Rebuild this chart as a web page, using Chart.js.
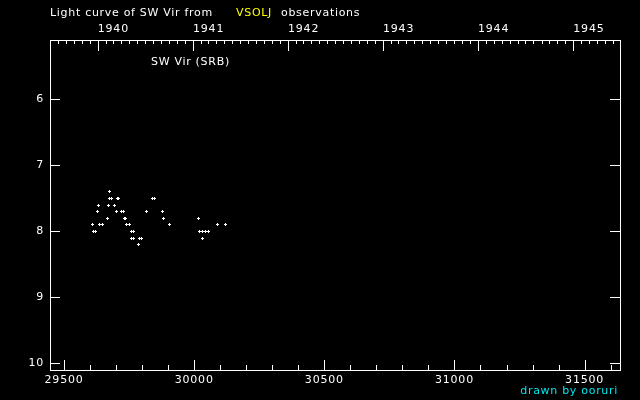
<!DOCTYPE html>
<html>
<head>
<meta charset="utf-8">
<script src="https://cdn.jsdelivr.net/npm/chart.js@4"></script>
<style>
  html, body { margin: 0; padding: 0; background: #000; }
  canvas { display: block; }
</style>
</head>
<body>
<canvas id="lc" width="640" height="400"></canvas>
<script>
// JD - 2400000 and visual magnitude (VSOLJ, SW Vir)
const jd = [29609, 29613, 29620, 29628, 29632, 29636, 29647, 29666, 29670, 29674,
            29674, 29683, 29693, 29702, 29705, 29711, 29720, 29728, 29731, 29735,
            29741, 29751, 29760, 29761, 29765, 29766, 29785, 29789, 29797, 29816,
            29839, 29847, 29877, 29881, 29904, 30016, 30020, 30031, 30031, 30042,
            30054, 30089, 30119];
const mag = [7.9, 8.0, 8.0, 7.7, 7.6, 7.9, 7.9, 7.8, 7.6, 7.4,
             7.5, 7.5, 7.6, 7.7, 7.5, 7.5, 7.7, 7.7, 7.8, 7.8,
             7.9, 7.9, 8.0, 8.1, 8.1, 8.0, 8.2, 8.1, 8.1, 7.7,
             7.5, 7.5, 7.7, 7.8, 7.9, 7.8, 8.0, 8.0, 8.1, 8.0,
             8.0, 7.9, 7.9];

const jdTicks = [29500, 30000, 30500, 31000, 31500];
const years = [1940, 1941, 1942, 1943, 1944, 1945];
const magTicks = [6, 7, 8, 9, 10];

const jdMin = 29446, jdMax = 31636;
const FONT = '11px "DejaVu Sans"';

// calendar date -> JD - 2400000
function jdOf(y, m) {
    return Date.UTC(y, m, 1) / 86400000 + 40587.5;
}

// small pixel plus used as the point marker
const plus = document.createElement("canvas");
plus.width = 3;
plus.height = 3;
const pctx = plus.getContext("2d");
pctx.fillStyle = "#fff";
pctx.fillRect(1, 0, 1, 3);
pctx.fillRect(0, 1, 3, 1);

const frame = {
    id: "frame",
    beforeDraw(chart) {
        const ctx = chart.ctx;
        ctx.fillStyle = "#000";
        ctx.fillRect(0, 0, chart.width, chart.height);
        ctx.letterSpacing = "0.8px";
    },
    beforeDatasetsDraw(chart) {
        chart.ctx.imageSmoothingEnabled = false;
    },
    afterDraw(chart) {
        const { ctx, chartArea: a, scales } = chart;
        ctx.save();
        ctx.strokeStyle = "#fff";
        ctx.lineWidth = 1;
        ctx.strokeRect(a.left + 0.5, a.top + 0.5, a.right - a.left, a.bottom - a.top);

        ctx.beginPath();
        // bottom: major every 500, minor every 100
        scales.x.ticks.forEach(t => {
            const px = Math.round(scales.x.getPixelForValue(t.value)) + 0.5;
            const len = t.value % 500 === 0 ? 10 : 5;
            ctx.moveTo(px, a.bottom);
            ctx.lineTo(px, a.bottom - len);
        });
        // top: years and months
        for (let y = years[0] - 1; y <= years[years.length - 1] + 1; y++) {
            for (let m = 0; m < 12; m++) {
                const v = jdOf(y, m);
                if (v <= jdMin || v >= jdMax) continue;
                const px = Math.round(scales.x2.getPixelForValue(v)) + 0.5;
                ctx.moveTo(px, a.top);
                ctx.lineTo(px, a.top + (m === 0 ? 11 : 4));
            }
        }
        // magnitude ticks on both sides
        magTicks.forEach(v => {
            const py = Math.round(scales.y.getPixelForValue(v)) + 0.5;
            ctx.moveTo(a.left, py);
            ctx.lineTo(a.left + 10, py);
            ctx.moveTo(a.right, py);
            ctx.lineTo(a.right - 10, py);
        });
        ctx.stroke();

        ctx.font = FONT;
        ctx.letterSpacing = "0.7px";
        ctx.textBaseline = "alphabetic";
        ctx.textAlign = "left";
        ctx.fillStyle = "#fff";
        ctx.fillText("Light curve of SW Vir from", 50, 16);
        ctx.fillStyle = "#ffff00";
        ctx.fillText("VSOLJ", 236, 16);
        ctx.fillStyle = "#fff";
        ctx.fillText("observations", 281, 16);
        ctx.fillText("SW Vir (SRB)", 151, 65);
        ctx.fillStyle = "#00e8f0";
        ctx.textAlign = "right";
        ctx.fillText("drawn by ooruri", 618, 394);
        ctx.restore();
    }
};

Chart.defaults.font.family = '"DejaVu Sans"';
Chart.defaults.font.size = 11;
Chart.defaults.color = "#fff";

new Chart(document.getElementById("lc").getContext("2d"), {
    type: "scatter",
    data: {
        datasets: [{
            data: jd.map((d, i) => ({ x: d, y: mag[i] })),
            pointStyle: plus,
            pointRadius: 1.5,
            borderColor: "#fff",
            backgroundColor: "#fff",
            xAxisID: "x",
            yAxisID: "y"
        }]
    },
    options: {
        responsive: false,
        animation: false,
        events: [],
        layout: { padding: { left: 0, top: 0, right: 20, bottom: 0 } },
        plugins: {
            legend: { display: false },
            tooltip: { enabled: false }
        },
        scales: {
            x: {
                type: "linear",
                position: "bottom",
                min: jdMin,
                max: jdMax,
                afterBuildTicks: s => {
                    const t = [];
                    for (let v = 29500; v <= 31600; v += 100) t.push({ value: v });
                    s.ticks = t;
                },
                afterFit: s => { s.height = 30; },
                ticks: {
                    autoSkip: false,
                    maxRotation: 0,
                    padding: 4,
                    color: "#fff",
                    callback: v => jdTicks.includes(v) ? String(v) : ""
                },
                grid: { display: false, drawTicks: false },
                border: { display: false }
            },
            x2: {
                type: "linear",
                position: "top",
                min: jdMin,
                max: jdMax,
                afterBuildTicks: s => {
                    s.ticks = years.map(y => ({ value: jdOf(y, 0) }));
                },
                afterFit: s => { s.height = 40; },
                ticks: {
                    autoSkip: false,
                    maxRotation: 0,
                    align: "start",
                    padding: 4,
                    color: "#fff",
                    callback: (v, i) => String(years[i])
                },
                grid: { display: false, drawTicks: false },
                border: { display: false }
            },
            y: {
                type: "linear",
                position: "left",
                reverse: true,
                min: 5.1,
                max: 10.1,
                afterBuildTicks: s => {
                    s.ticks = magTicks.map(v => ({ value: v }));
                },
                afterFit: s => { s.width = 50; },
                ticks: {
                    padding: 6,
                    color: "#fff",
                    callback: v => String(v)
                },
                grid: { display: false, drawTicks: false },
                border: { display: false }
            }
        }
    },
    plugins: [frame]
});
</script>
</body>
</html>
